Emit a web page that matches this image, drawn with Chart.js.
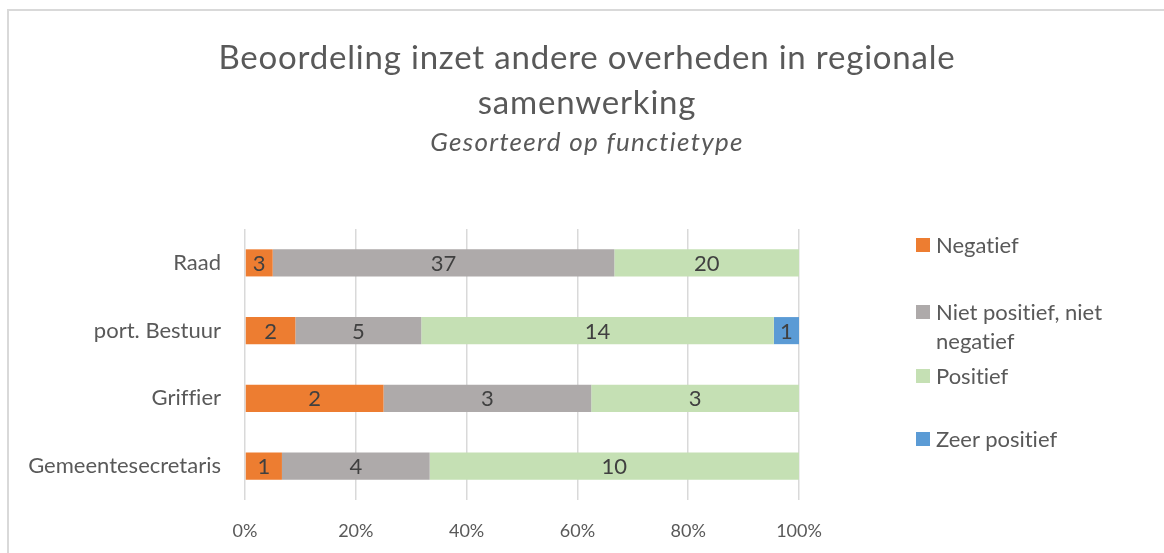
<!DOCTYPE html>
<html>
<head>
<meta charset="utf-8">
<script src="https://cdn.jsdelivr.net/npm/chart.js@4.4.1/dist/chart.umd.min.js"></script>
<style>
  body { margin: 0; background: #fff; font-family: Lato, sans-serif; overflow: hidden; font-variant-ligatures: none; }
  #frame { position: absolute; left: 7px; top: 9px; width: 1180px; height: 580px; border: 2px solid #d9d9d9; }
  #chart { position: absolute; left: 0; top: 0; }
  .title { position: absolute; left: 10px; width: 1154px; text-align: center; color: #595959; white-space: nowrap; }
  #title { top: 34px; font-size: 33px; line-height: 45px; letter-spacing: 0.8px; }
  #subtitle { top: 125px; font-size: 26px; line-height: 32px; font-style: italic; letter-spacing: 1.3px; }
  .legend-item { position: absolute; left: 936px; font-size: 22px; line-height: 29px; color: #595959; white-space: nowrap; }
  .legend-box { position: absolute; left: -20px; top: 8px; width: 14px; height: 14px; }
</style>
</head>
<body>
<div id="frame"></div>
<canvas id="chart" width="1164" height="553"></canvas>
<div id="title" class="title">Beoordeling inzet andere overheden in regionale<br>samenwerking</div>
<div id="subtitle" class="title">Gesorteerd op functietype</div>
<div id="legend"></div>
<script>
/*
Data
*/
const categories = ["Raad", "port. Bestuur", "Griffier", "Gemeentesecretaris"];
const seriesNames = ["Negatief", "Niet positief, niet negatief", "Positief", "Zeer positief"];
const negatief = [3, 2, 2, 1];
const nietPositiefNietNegatief = [37, 5, 3, 4];
const positief = [20, 14, 3, 10];
const zeerPositief = [0, 1, 0, 0];
const xTicks = [0, 20, 40, 60, 80, 100];

const colors = ["#ED7D31", "#AEAAAA", "#C5E0B4", "#5B9BD5"];
const counts = [negatief, nietPositiefNietNegatief, positief, zeerPositief];

// totals per category, for the 100% stack
const totals = categories.map((c, i) => counts.reduce((s, arr) => s + arr[i], 0));

const datasets = counts.map((arr, k) => ({
    label: seriesNames[k],
    data: arr.map((v, i) => v / totals[i] * 100),
    counts: arr,
    backgroundColor: colors[k],
    borderWidth: 0,
    barPercentage: 0.4,
    categoryPercentage: 1
}));

/*
Value labels in the middle of each segment
*/
const valueLabels = {
    id: "valueLabels",
    afterDatasetsDraw(chart) {
        const ctx = chart.ctx;
        ctx.save();
        ctx.font = "22px Lato";
        ctx.fillStyle = "#404040";
        ctx.textAlign = "center";
        ctx.textBaseline = "middle";
        chart.data.datasets.forEach((ds, i) => {
            chart.getDatasetMeta(i).data.forEach((bar, j) => {
                const n = ds.counts[j];
                if (!n) return;
                const p = bar.getCenterPoint();
                ctx.fillText(String(n), p.x, p.y + 1);
            });
        });
        ctx.restore();
    }
};

new Chart(document.getElementById("chart").getContext("2d"), {
    type: "bar",
    data: { labels: categories, datasets: datasets },
    plugins: [valueLabels],
    options: {
        indexAxis: "y",
        responsive: false,
        animation: false,
        layout: { padding: { left: 10, right: 365, top: 229, bottom: 0 } },
        plugins: {
            legend: { display: false },
            tooltip: { enabled: false }
        },
        scales: {
            x: {
                stacked: true,
                min: 0,
                max: 100,
                afterBuildTicks: (s) => { s.ticks = xTicks.map(v => ({ value: v })); },
                afterFit: (s) => { s.height = 53; },
                grid: { color: "#d9d9d9", lineWidth: 1.5, drawTicks: false },
                border: { display: false },
                ticks: {
                    padding: 20,
                    color: "#595959",
                    font: { family: "Lato", size: 18 },
                    callback: (v) => v + "%"
                }
            },
            y: {
                stacked: true,
                afterFit: (s) => { s.width = 235; },
                grid: { display: false, drawTicks: false },
                border: { display: false },
                ticks: {
                    padding: 24,
                    color: "#595959",
                    font: { family: "Lato", size: 22 }
                }
            }
        }
    }
});

/*
Legend on the right
*/
const legendTops = [230, 297, 361, 424];
const legend = document.getElementById("legend");
seriesNames.forEach((name, k) => {
    const item = document.createElement("div");
    item.className = "legend-item";
    item.style.top = legendTops[k] + "px";
    item.innerHTML = `<span class="legend-box" style="background:${colors[k]}"></span>` +
        name.replace("niet negatief", "niet<br>negatief");
    legend.appendChild(item);
});
</script>
</body>
</html>
